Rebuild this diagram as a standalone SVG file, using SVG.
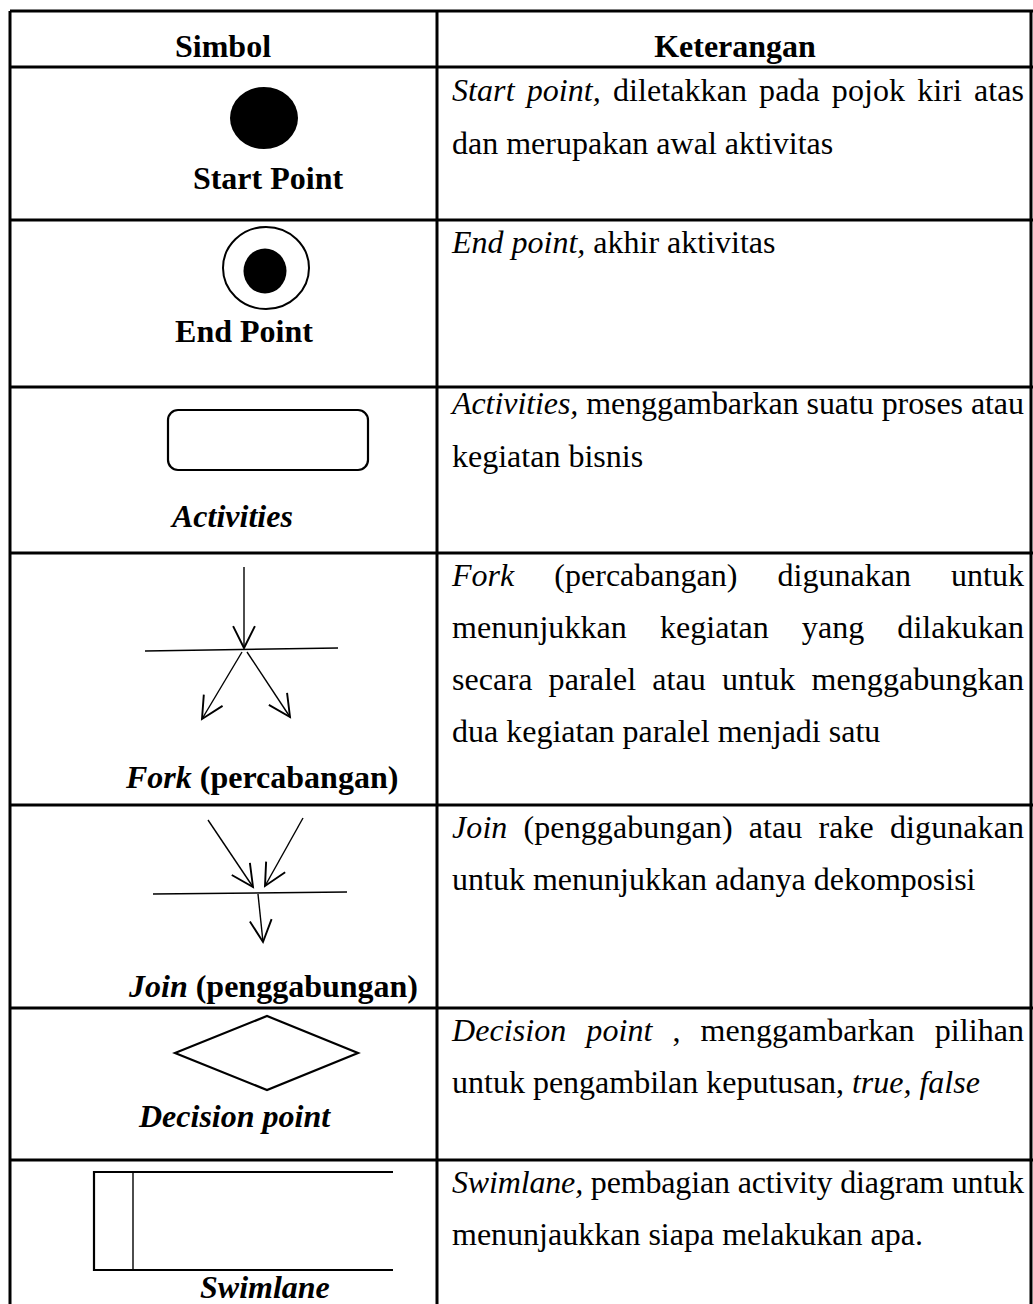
<svg xmlns="http://www.w3.org/2000/svg" width="1033" height="1304" viewBox="0 0 1033 1304" font-family="'Liberation Serif', 'Times New Roman', 'DejaVu Serif', serif">
<style>
text{font-family:'Liberation Serif','Times New Roman','DejaVu Serif',serif;font-size:32px;fill:#000}
.b{font-weight:bold}
.i{font-style:italic}
.grid{stroke:#000;stroke-width:3;fill:none}
.ln{stroke:#000;stroke-width:1.4;fill:none}
.sh{stroke:#000;stroke-width:2.2;fill:none}
</style>
<defs>
<marker id="arr" markerUnits="userSpaceOnUse" markerWidth="30" markerHeight="30" viewBox="-20 -10 22 20" refX="0" refY="0" orient="auto">
<path d="M-16,-8 L0,0 L-16,8" fill="none" stroke="#000" stroke-width="1.4"/>
</marker>
</defs>
<rect width="1033" height="1304" fill="#fff"/>
<g id="table">
<path class="grid" d="M10,11 V1304 M437,11 V1304 M1031,11 V1304 M10,11 H1033 M10,67 H1033 M10,220 H1033 M10,387 H1033 M10,553 H1033 M10,805 H1033 M10,1008 H1033 M10,1160 H1033"/>
<text class="b" x="223" y="57" text-anchor="middle">Simbol</text>
<text class="b" x="735" y="57" text-anchor="middle">Keterangan</text>
</g>
<g id="start-point">
<ellipse cx="264" cy="118" rx="34" ry="31" fill="#000"/>
<text class="b" x="268" y="189" text-anchor="middle">Start Point</text>
<text x="452" y="101" word-spacing="4" textLength="572" lengthAdjust="spacing"><tspan class="i">Start point,</tspan> diletakkan pada pojok kiri atas</text>
<text x="452" y="154">dan merupakan awal aktivitas</text>
</g>
<g id="end-point">
<ellipse cx="266" cy="268" rx="43" ry="41" fill="none" stroke="#000" stroke-width="2"/>
<ellipse cx="265" cy="271" rx="21.5" ry="22.5" fill="#000"/>
<text class="b" x="244" y="342" text-anchor="middle">End Point</text>
<text x="452" y="253"><tspan class="i">End point,</tspan> akhir aktivitas</text>
</g>
<g id="activities">
<rect class="sh" x="168" y="410" width="200" height="60" rx="10"/>
<text class="b i" x="172" y="527">Activities</text>
<text x="452" y="414" textLength="572" lengthAdjust="spacing"><tspan class="i">Activities,</tspan> menggambarkan suatu proses atau</text>
<text x="452" y="467">kegiatan bisnis</text>
</g>
<g id="fork">
<line class="ln" x1="145" y1="651" x2="338" y2="648"/>
<text class="b" x="126" y="788"><tspan class="i">Fork</tspan> (percabangan)</text>
<text x="452" y="586" word-spacing="32" textLength="572" lengthAdjust="spacing"><tspan class="i">Fork</tspan> (percabangan) digunakan untuk</text>
<text x="452" y="638" word-spacing="25" textLength="572" lengthAdjust="spacing">menunjukkan kegiatan yang dilakukan</text>
<text x="452" y="690" word-spacing="8" textLength="572" lengthAdjust="spacing">secara paralel atau untuk menggabungkan</text>
<text x="452" y="742">dua kegiatan paralel menjadi satu</text>
</g>
<g id="join">
<line class="ln" x1="153" y1="894" x2="347" y2="892"/>
<text class="b" x="129" y="997"><tspan class="i">Join</tspan> (penggabungan)</text>
<text x="452" y="838" word-spacing="8" textLength="572" lengthAdjust="spacing"><tspan class="i">Join</tspan> (penggabungan) atau rake digunakan</text>
<text x="452" y="890">untuk menunjukkan adanya dekomposisi</text>
</g>
<g id="decision-point">
<polygon class="sh" points="175,1053 267,1016 358,1053 267,1090"/>
<text class="b i" x="139" y="1127">Decision point</text>
<text x="452" y="1041" word-spacing="12" textLength="572" lengthAdjust="spacing"><tspan class="i">Decision point</tspan> , menggambarkan pilihan</text>
<text x="452" y="1093">untuk pengambilan keputusan, <tspan class="i">true, false</tspan></text>
</g>
<g id="swimlane">
<path class="sh" d="M393,1172 H94 V1270 H393"/>
<line class="ln" x1="133" y1="1172" x2="133" y2="1270"/>
<text class="b i" x="200" y="1298">Swimlane</text>
<text x="452" y="1193" textLength="572" lengthAdjust="spacing"><tspan class="i">Swimlane,</tspan> pembagian activity diagram untuk</text>
<text x="452" y="1245">menunjaukkan siapa melakukan apa.</text>
</g>
<g id="connectors">
<line class="ln" x1="244" y1="567" x2="244" y2="648" marker-end="url(#arr)"/>
<line class="ln" x1="242" y1="652" x2="202" y2="719" marker-end="url(#arr)"/>
<line class="ln" x1="247" y1="652" x2="290" y2="717" marker-end="url(#arr)"/>
<line class="ln" x1="208" y1="820" x2="253" y2="887" marker-end="url(#arr)"/>
<line class="ln" x1="303" y1="818" x2="265" y2="886" marker-end="url(#arr)"/>
<line class="ln" x1="258" y1="894" x2="263" y2="942" marker-end="url(#arr)"/>
</g>
</svg>
